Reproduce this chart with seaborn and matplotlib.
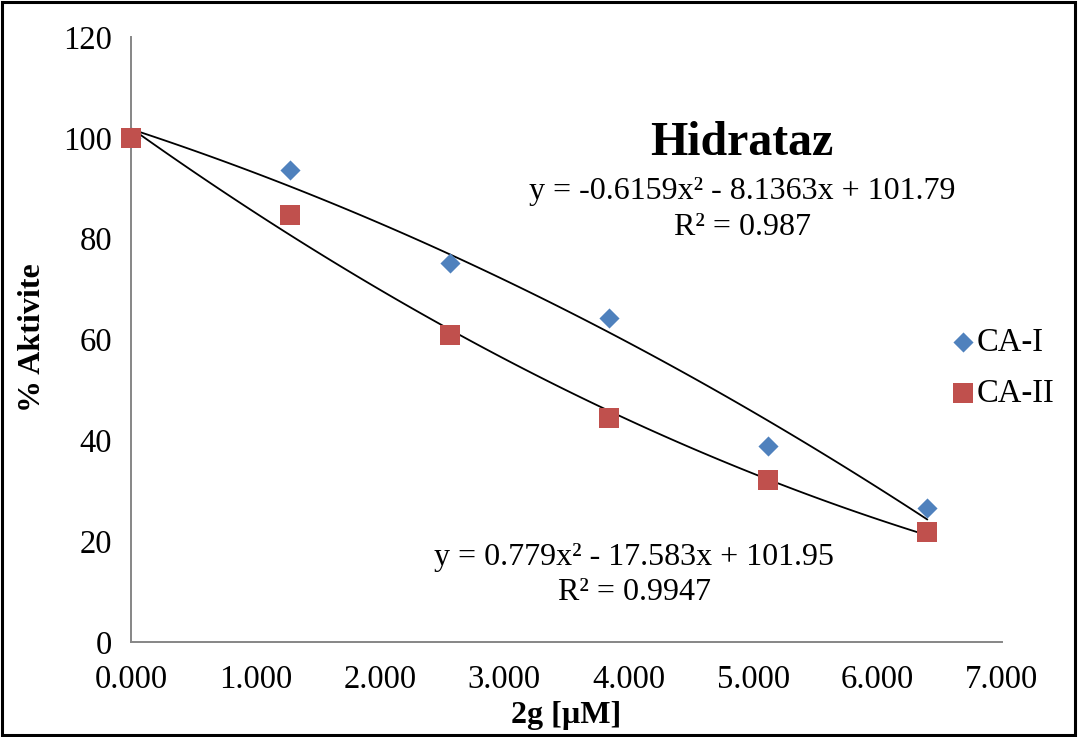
import numpy as np
import pandas as pd
import matplotlib
matplotlib.use("Agg")
import matplotlib.pyplot as plt
from matplotlib.patches import Rectangle
import seaborn as sns

# data
conc = [0.0, 1.28, 2.56, 3.84, 5.12, 6.40]
ca1 = [100.0, 93.6, 75.2, 64.3, 38.9, 26.6]
ca2 = [100.0, 84.7, 60.9, 44.4, 32.1, 21.8]
series_names = ["CA-I", "CA-II"]
x_ticks = [0, 1, 2, 3, 4, 5, 6, 7]
y_ticks = [0, 20, 40, 60, 80, 100, 120]
eq1 = ["y = -0.6159x² - 8.1363x + 101.79", "R² = 0.987"]
eq2 = ["y = 0.779x² - 17.583x + 101.95", "R² = 0.9947"]

BLUE = "#4F81BD"
RED = "#C0504D"
GREY = "#868686"

sns.set_style("white")
plt.rcParams["font.family"] = ["Liberation Serif", "DejaVu Serif"]
plt.rcParams["text.color"] = "black"
plt.rcParams["axes.labelcolor"] = "black"

df = pd.DataFrame({
    "conc": conc + conc,
    "act": ca1 + ca2,
    "series": [series_names[0]] * len(conc) + [series_names[1]] * len(conc),
})

fig = plt.figure(figsize=(10.78, 7.37), dpi=100)
ax = fig.add_axes([131 / 1078, 1 - 642 / 737, (1002 - 131) / 1078, (642 - 37) / 737])

# polynomial (order 2) trendlines
for name in series_names:
    sub = df[df["series"] == name]
    sns.regplot(data=sub, x="conc", y="act", order=2, ci=None, scatter=False,
                truncate=True, color="black", line_kws={"lw": 1.3}, ax=ax)

sns.scatterplot(data=df[df["series"] == "CA-I"], x="conc", y="act", marker="D",
                s=105, color=BLUE, edgecolor=BLUE, linewidth=0, ax=ax, label="CA-I",
                zorder=3, clip_on=False)
sns.scatterplot(data=df[df["series"] == "CA-II"], x="conc", y="act", marker="s",
                s=205, color=RED, edgecolor=RED, linewidth=0, ax=ax, label="CA-II",
                zorder=3, clip_on=False)

ax.set_xlim(0, 7)
ax.set_ylim(0, 120)
ax.set_xticks(x_ticks)
ax.set_xticklabels([f"{v:.3f}" for v in x_ticks])
ax.set_yticks(y_ticks)

for side in ["top", "right"]:
    ax.spines[side].set_visible(False)
for side in ["left", "bottom"]:
    ax.spines[side].set_color(GREY)
    ax.spines[side].set_linewidth(1.4)
ax.tick_params(axis="both", which="major", direction="out", length=6.5, width=1.4,
               color=GREY, labelsize=23.5, labelcolor="black")
ax.tick_params(axis="y", pad=7)
ax.tick_params(axis="x", pad=10)

ax.set_xlabel("2g [µM]", fontsize=23, fontweight="bold", va="center", ha="center")
ax.set_ylabel("% Aktivite", fontsize=23, fontweight="bold", va="center", ha="center")
ax.xaxis.set_label_coords((566 - 131) / (1002 - 131), -(716 - 642) / (642 - 37))
ax.yaxis.set_label_coords(-(131 - 33) / (1002 - 131), (642 - 338) / (642 - 37))

# title and equation labels
fig.text(742 / 1078, 1 - 143 / 737, "Hidrataz", fontsize=34.5, fontweight="bold",
         ha="center", va="center")
fig.text(742 / 1078, 1 - 191 / 737, eq1[0], fontsize=23, ha="center", va="center")
fig.text(742 / 1078, 1 - 227 / 737, eq1[1], fontsize=23, ha="center", va="center")
fig.text(634 / 1078, 1 - 557 / 737, eq2[0], fontsize=23, ha="center", va="center")
fig.text(634 / 1078, 1 - 593 / 737, eq2[1], fontsize=23, ha="center", va="center")

ax.legend(loc="center left", bbox_to_anchor=(934 / 1078, 1 - 368 / 737),
          bbox_transform=fig.transFigure, frameon=False, fontsize=23.5,
          handletextpad=0.02, labelspacing=0.62, borderpad=0, handlelength=0.8)

# black frame around the whole chart
fig.patches.append(Rectangle((0.002, 0.003), 0.995, 0.994, transform=fig.transFigure,
                             fill=False, edgecolor="black", linewidth=2.2))

fig.savefig("out.png", dpi=100)
